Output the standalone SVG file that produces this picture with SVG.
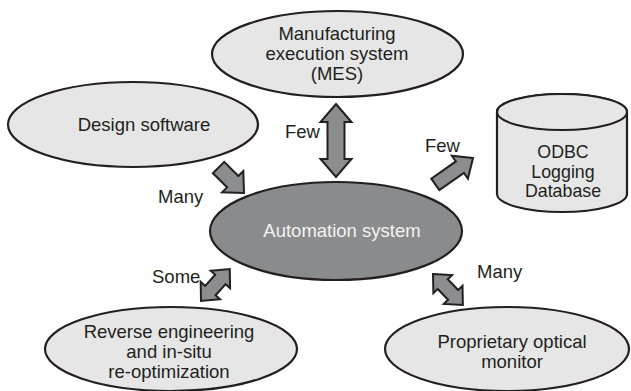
<svg xmlns="http://www.w3.org/2000/svg" width="631" height="391" viewBox="0 0 631 391">
  <defs>
    <style>
      .node { fill: #e6e6e7; stroke: #231f20; stroke-width: 2.2; }
      .core { fill: #8a8b8d; stroke: #231f20; stroke-width: 2.2; }
      .arrow { fill: #8c8d8f; stroke: #231f20; stroke-width: 2; stroke-linejoin: miter; }
      text { font-family: "Liberation Sans", Arial, sans-serif; font-size: 18.5px; fill: #231f20; text-anchor: middle; }
      .lbl { text-anchor: start; }
      .db-text { font-size: 17.8px; }
      .core-text { fill: #f2f2f2; }
    </style>
  </defs>

  <rect width="631" height="391" fill="#ffffff"/>

  <g id="mes">
    <ellipse class="node" cx="337.5" cy="54" rx="125.5" ry="43"/>
    <text x="337" y="40">Manufacturing</text>
    <text x="337" y="60">execution system</text>
    <text x="337" y="80">(MES)</text>
  </g>

  <g id="design-software">
    <ellipse class="node" cx="133" cy="124.5" rx="125" ry="42.5"/>
    <text x="144" y="131">Design software</text>
  </g>

  <g id="odbc-database">
    <path class="node" d="M497,112 L497,194 A65,18 0 0 0 627,194 L627,112 A65,18 0 0 0 497,112 Z"/>
    <ellipse class="node" cx="562" cy="112" rx="65" ry="18"/>
    <text class="db-text" x="563" y="158">ODBC</text>
    <text class="db-text" x="563" y="177.5">Logging</text>
    <text class="db-text" x="563" y="197">Database</text>
  </g>

  <g id="automation-system">
    <ellipse class="core" cx="336" cy="231" rx="126" ry="49"/>
    <text class="core-text" x="342" y="237">Automation system</text>
  </g>

  <g id="reverse-engineering">
    <ellipse class="node" cx="171" cy="349" rx="126" ry="42"/>
    <text x="169" y="338">Reverse engineering</text>
    <text x="169" y="358">and in-situ</text>
    <text x="169" y="378">re-optimization</text>
  </g>

  <g id="optical-monitor">
    <ellipse class="node" cx="507" cy="349" rx="122" ry="42"/>
    <text x="512" y="348">Proprietary optical</text>
    <text x="512" y="368">monitor</text>
  </g>

  <g id="connectors">
    <!-- Design software -> Automation system -->
    <polygon class="arrow" transform="translate(244,193) rotate(45)"
      points="0,0 -16,-15 -16,-8 -36,-8 -36,8 -16,8 -16,15"/>
    <!-- MES <-> Automation system -->
    <polygon class="arrow" transform="translate(336,104) rotate(90)"
      points="0,0 18,-15.5 18,-8.5 55,-8.5 55,-15.5 73,0 55,15.5 55,8.5 18,8.5 18,15.5"/>
    <!-- Automation system -> ODBC database -->
    <polygon class="arrow" transform="translate(473,158) rotate(-35)"
      points="0,0 -16,-14 -16,-7 -46,-7 -46,7 -16,7 -16,14"/>
    <!-- Reverse engineering <-> Automation system -->
    <polygon class="arrow" transform="translate(201,301) rotate(-48)"
      points="0,0 14,-13 14,-7 29,-7 29,-13 43,0 29,13 29,7 14,7 14,13"/>
    <!-- Automation system <-> Optical monitor -->
    <polygon class="arrow" transform="translate(433,274) rotate(46)"
      points="0,0 14,-13 14,-7 29,-7 29,-13 43,0 29,13 29,7 14,7 14,13"/>

    <text class="lbl" x="285" y="138">Few</text>
    <text class="lbl" x="425" y="152">Few</text>
    <text class="lbl" x="158" y="203">Many</text>
    <text class="lbl" x="152" y="283">Some</text>
    <text class="lbl" x="477" y="278">Many</text>
  </g>
</svg>
